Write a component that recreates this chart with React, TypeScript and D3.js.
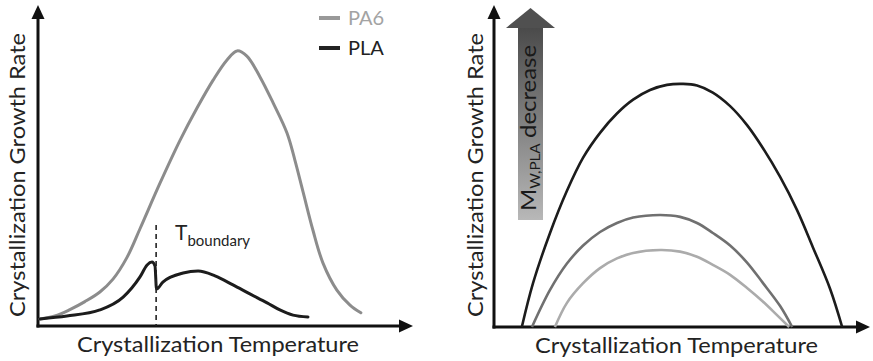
import React from "react";
import * as d3 from "d3";

// ---- Left panel data (arbitrary units 0..100) ----
const pa6X = [0.5, 4.5, 8.5, 12.5, 16.5, 20.0, 23.7, 27.2, 32.5, 37.9, 42.4, 46.7, 50.4, 53.1, 55.7, 59.2, 62.7, 66.4, 68.5, 70.7, 73.3, 76.0, 79.7, 83.2, 86.1];
const pa6Y = [2.2, 3.1, 5.1, 7.6, 10.6, 14.6, 21.3, 30.3, 44.4, 57.9, 67.9, 76.6, 82.9, 85.7, 84.1, 77.6, 69.5, 60.1, 51.7, 41.7, 29.9, 19.6, 11.2, 6.5, 4.1];

const plaX = [0.5, 7.7, 16.5, 22.7, 27.2, 29.1, 30.4, 31.2, 31.6, 33.3, 38.7, 42.7, 47.2, 52.0, 56.5, 61.1, 64.5, 68.0, 72.0];
const plaY = [2.2, 3.1, 5.0, 9.0, 15.3, 19.0, 19.9, 18.7, 11.5, 13.7, 16.5, 17.1, 15.6, 12.8, 10.0, 7.2, 5.0, 3.4, 2.8];

const tBoundaryX = 31.5;
const tBoundaryTop = 31.5;

const legendLabels = ["PA6", "PLA"];

// ---- Right panel data ----
const highX = [7.4, 10.4, 14.9, 19.4, 23.7, 28.2, 32.7, 37.0, 41.5, 46.0, 50.3, 54.0, 58.2, 62.8, 67.3, 71.5, 76.1, 80.6, 84.8, 89.4, 92.6];
const highY = [0, 13.7, 29.2, 42.3, 52.6, 60.3, 66.3, 70.6, 73.6, 75.2, 75.5, 75.0, 72.8, 68.6, 62.7, 55.6, 46.6, 36.3, 24.8, 11.8, 0];

const midX = [10.1, 14.9, 19.4, 23.7, 28.2, 32.7, 37.0, 44.2, 49.5, 54.0, 58.2, 62.8, 67.3, 71.5, 76.1, 79.3];
const midY = [0, 11.5, 19.7, 25.3, 29.5, 32.3, 34.0, 34.8, 34.2, 32.3, 29.2, 25.3, 20.0, 13.7, 6.5, 0];

const lowX = [16.2, 19.4, 23.7, 28.2, 32.7, 37.0, 44.2, 49.5, 54.0, 58.2, 62.8, 67.3, 71.5, 75.0, 78.5];
const lowY = [0, 7.5, 13.6, 18.3, 21.3, 23.0, 23.9, 23.4, 21.8, 19.3, 16.2, 12.1, 7.9, 4.0, 0];

const xLabel = "Crystallization Temperature";
const yLabel = "Crystallization Growth Rate";

const W = 873;
const H = 361;
const FONT = "Lato, 'Open Sans', sans-serif";
const TEXT = "#232323";

type Pt = [number, number];
const zip = (xs: number[], ys: number[]): Pt[] => xs.map((x, i) => [x, ys[i]]);

export default function App() {
  const xL = d3.scaleLinear().domain([0, 100]).range([38, 413]);
  const yL = d3.scaleLinear().domain([0, 100]).range([326, 5]);
  const xR = d3.scaleLinear().domain([0, 100]).range([494, 870]);
  const yR = d3.scaleLinear().domain([0, 100]).range([327, 5]);

  const smoothL = d3.line<Pt>().x((d) => xL(d[0])).y((d) => yL(d[1])).curve(d3.curveCatmullRom.alpha(0.5));
  const monoL = d3.line<Pt>().x((d) => xL(d[0])).y((d) => yL(d[1])).curve(d3.curveMonotoneX);
  const smoothR = d3.line<Pt>().x((d) => xR(d[0])).y((d) => yR(d[1])).curve(d3.curveCatmullRom.alpha(0.5));

  const axes = (
    xs: d3.ScaleLinear<number, number>,
    ys: d3.ScaleLinear<number, number>
  ) => {
    const x0 = xs(0);
    const y0 = ys(0);
    const xt = xs(100);
    const yt = ys(100);
    return (
      <g>
        <line x1={x0} y1={y0 + 1.5} x2={x0} y2={yt + 12} stroke="#111" strokeWidth={3} />
        <polygon points={`${x0},${yt} ${x0 - 6.5},${yt + 14} ${x0 + 6.5},${yt + 14}`} fill="#111" />
        <line x1={x0 - 1.5} y1={y0} x2={xt - 12} y2={y0} stroke="#111" strokeWidth={3} />
        <polygon points={`${xt},${y0} ${xt - 14},${y0 - 6.5} ${xt - 14},${y0 + 6.5}`} fill="#111" />
      </g>
    );
  };

  const legendColors = ["#999999", "#222222"];
  const legendText = ["#a3a3a3", "#222222"];

  return (
    <svg
      width={W}
      height={H}
      style={{ position: "fixed", left: 0, top: 0, background: "#fff" }}
      fontFamily={FONT}
    >
      <defs>
        <linearGradient id="mwGrad" x1="0" y1="0" x2="0" y2="1">
          <stop offset="0%" stopColor="#4a4a4a" />
          <stop offset="100%" stopColor="#b8b8b8" />
        </linearGradient>
      </defs>
      <rect x={0} y={0} width={W} height={H} fill="#fff" />

      {/* ---------- Left panel ---------- */}
      {axes(xL, yL)}
      <path d={smoothL(zip(pa6X, pa6Y)) || ""} fill="none" stroke="#8c8c8c" strokeWidth={3} strokeLinecap="round" />
      <path d={monoL(zip(plaX, plaY)) || ""} fill="none" stroke="#1c1c1c" strokeWidth={3} strokeLinecap="round" strokeLinejoin="round" />
      <line
        x1={xL(tBoundaryX)}
        x2={xL(tBoundaryX)}
        y1={yL(tBoundaryTop)}
        y2={yL(0)}
        stroke="#222"
        strokeWidth={1.6}
        strokeDasharray="5,4"
      />
      <text x={175} y={240} fontSize={21} fill={TEXT}>
        T
        <tspan fontSize={15} dy={6}>boundary</tspan>
      </text>

      {legendLabels.map((lab, i) => (
        <g key={lab}>
          <line x1={319} x2={340} y1={18 + i * 30} y2={18 + i * 30} stroke={legendColors[i]} strokeWidth={4} />
          <text x={348} y={25 + i * 30} fontSize={20} fill={legendText[i]}>
            {lab}
          </text>
        </g>
      ))}

      <text x={77} y={352} fontSize={21} fill={TEXT} textLength={282} lengthAdjust="spacingAndGlyphs">
        {xLabel}
      </text>
      <text
        transform={`translate(25,317) rotate(-90)`}
        fontSize={21}
        fill={TEXT}
        textLength={284}
        lengthAdjust="spacingAndGlyphs"
      >
        {yLabel}
      </text>

      {/* ---------- Right panel ---------- */}
      {axes(xR, yR)}
      <path d={smoothR(zip(lowX, lowY)) || ""} fill="none" stroke="#ababab" strokeWidth={2.6} />
      <path d={smoothR(zip(midX, midY)) || ""} fill="none" stroke="#707070" strokeWidth={2.6} />
      <path d={smoothR(zip(highX, highY)) || ""} fill="none" stroke="#1c1c1c" strokeWidth={2.6} />

      {/* gradient arrow */}
      <rect x={518} y={27} width={25} height={193} fill="url(#mwGrad)" />
      <polygon points="506,28 555,28 530.5,8" fill="#505050" />
      <text transform="translate(536,211) rotate(-90)" fontSize={22} fill="#1a1a1a" textLength={166} lengthAdjust="spacingAndGlyphs">
        M
        <tspan fontSize={14} dy={4}>W,PLA</tspan>
        <tspan fontSize={22} dy={-4} dx={5}>decrease</tspan>
      </text>

      <text x={535} y={353} fontSize={21} fill={TEXT} textLength={283} lengthAdjust="spacingAndGlyphs">
        {xLabel}
      </text>
      <text
        transform={`translate(483,317) rotate(-90)`}
        fontSize={21}
        fill={TEXT}
        textLength={284}
        lengthAdjust="spacingAndGlyphs"
      >
        {yLabel}
      </text>
    </svg>
  );
}
